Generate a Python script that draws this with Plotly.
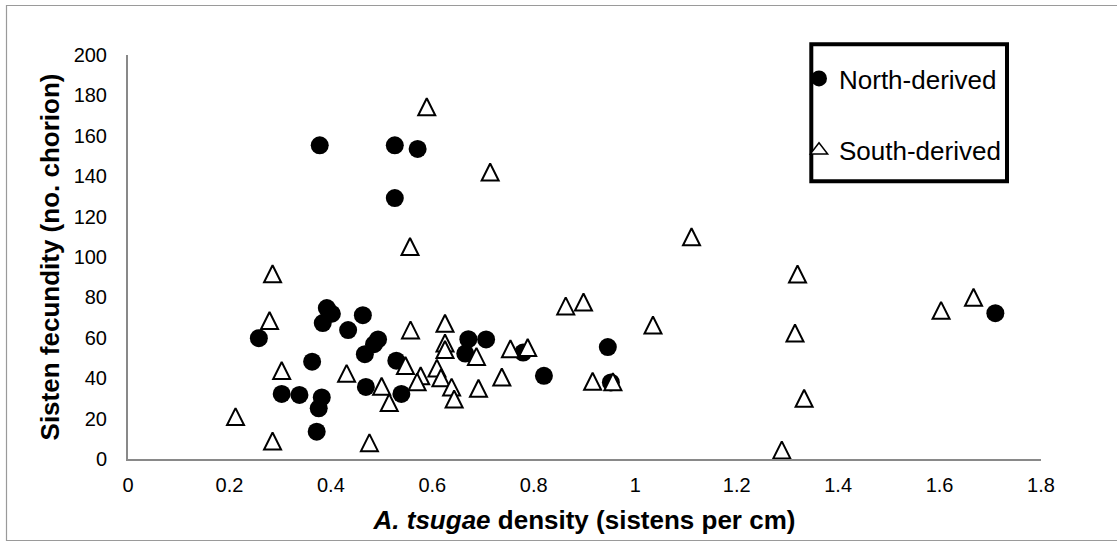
import plotly.graph_objects as go

# ---------------- data ----------------
north_x = [0.378, 0.526, 0.571, 0.526, 0.258, 0.392, 0.402, 0.384, 0.434, 0.463,
           0.493, 0.485, 0.467, 0.363, 0.529, 0.303, 0.338, 0.382, 0.376, 0.372,
           0.469, 0.539, 0.671, 0.706, 0.665, 0.779, 0.820, 0.946, 0.952, 1.710]
north_y = [155.3, 155.3, 153.5, 129.2, 59.8, 74.7, 71.9, 67.3, 63.8, 71.2,
           59.2, 56.8, 51.9, 48.2, 48.7, 32.2, 31.7, 30.5, 25.1, 13.5,
           35.7, 32.2, 59.3, 59.2, 52.2, 52.7, 41.2, 55.4, 37.9, 72.2]

south_x = [0.589, 0.714, 0.556, 0.285, 0.279, 0.303, 0.212, 0.285, 0.476, 0.431,
           0.557, 0.547, 0.500, 0.515, 0.625, 0.625, 0.625, 0.609, 0.577, 0.570,
           0.617, 0.638, 0.643, 0.687, 0.691, 0.754, 0.788, 0.737, 0.863, 0.898,
           1.035, 0.916, 0.956, 1.111, 1.320, 1.667, 1.603, 1.315, 1.333, 1.289]
south_y = [174.4, 142.1, 105.2, 91.7, 68.6, 43.8, 21.0, 8.9, 8.1, 42.4,
           63.9, 46.3, 36.0, 28.0, 67.2, 57.4, 54.2, 45.0, 41.2, 38.2,
           40.2, 35.6, 29.7, 50.8, 35.0, 54.6, 55.2, 40.6, 75.8, 77.7,
           66.3, 38.5, 38.3, 110.0, 91.6, 80.1, 73.6, 62.4, 30.1, 4.5]

x_tick_vals = [0, 0.2, 0.4, 0.6, 0.8, 1.0, 1.2, 1.4, 1.6, 1.8]
x_tick_text = ["0", "0.2", "0.4", "0.6", "0.8", "1", "1.2", "1.4", "1.6", "1.8"]
y_tick_vals = [0, 20, 40, 60, 80, 100, 120, 140, 160, 180, 200]

series_names = ["North-derived", "South-derived"]
x_title = "<i>A. tsugae</i> density (sistens per cm)"
y_title = "Sisten fecundity (no. chorion)"

# ---------------- layout geometry ----------------
W, H = 1117, 544
ML, MR, MT, MB = 128, 76, 55, 85
PLOT_W = W - ML - MR
PLOT_H = H - MT - MB
Y_MAX = 200
X_MAX = 1.8

FONT = "Liberation Sans, Arial, sans-serif"
AXIS_GREY = "#898989"

TRI_SIZE = 17
TRI_LW = 2
# 'arrow-up' hangs below its anchor point; shift its axis so the triangle is centred on the value
tri_shift = (TRI_SIZE / 2) / (PLOT_H / Y_MAX)


def px_x(p):
    return (p - ML) / PLOT_W


def px_y(p):
    return (H - MB - p) / PLOT_H


fig = go.Figure()

fig.add_trace(go.Scatter(
    x=north_x, y=north_y, mode="markers", name=series_names[0],
    legendgroup="n",
    marker=dict(symbol="circle", size=18, color="black", line=dict(width=0)),
))

fig.add_trace(go.Scatter(
    x=south_x, y=south_y, mode="markers", name=series_names[1],
    yaxis="y2", showlegend=False, legendgroup="s",
    marker=dict(symbol="arrow-up", size=TRI_SIZE, color="white",
                line=dict(width=TRI_LW, color="black")),
))

# legend entry for the triangles (no data of its own)
fig.add_trace(go.Scatter(
    x=[None], y=[None], mode="markers", name=series_names[1],
    legendgroup="s",
    marker=dict(symbol="triangle-up", size=15, color="white",
                line=dict(width=1.5, color="black")),
))

fig.update_layout(
    width=W, height=H,
    margin=dict(l=ML, r=MR, t=MT, b=MB, autoexpand=False),
    paper_bgcolor="white", plot_bgcolor="white",
    font=dict(family=FONT, color="black"),
    showlegend=True,
    legend=dict(
        x=px_x(799), y=px_y(55), xanchor="left", yanchor="top",
        bgcolor="rgba(0,0,0,0)", borderwidth=0,
        font=dict(family=FONT, size=26, color="black"),
        tracegroupgap=35,
    ),
    xaxis=dict(
        range=[0, X_MAX], tickmode="array", tickvals=x_tick_vals, ticktext=x_tick_text,
        showgrid=False, zeroline=False, showline=True, linecolor=AXIS_GREY, linewidth=2,
        ticks="", tickfont=dict(family=FONT, size=20, color="black"),
        ticklabelstandoff=7,
        title=dict(text=x_title, font=dict(family=FONT, size=26, color="black", weight="bold"),
                   standoff=16),
        fixedrange=True,
    ),
    yaxis=dict(
        range=[0, Y_MAX], tickmode="array", tickvals=y_tick_vals,
        showgrid=False, zeroline=False, showline=True, linecolor=AXIS_GREY, linewidth=2,
        ticks="", tickfont=dict(family=FONT, size=20, color="black"),
        ticklabelstandoff=15,
        title=dict(text=y_title, font=dict(family=FONT, size=26, color="black", weight="bold"),
                   standoff=7),
        fixedrange=True,
    ),
    yaxis2=dict(
        range=[-tri_shift, Y_MAX - tri_shift], overlaying="y", visible=False,
        fixedrange=True,
    ),
    shapes=[
        # outer chart border
        dict(type="rect", xref="paper", yref="paper",
             x0=px_x(6.5), x1=px_x(1125), y0=px_y(540.5), y1=px_y(5.5),
             line=dict(color="#9a9a9a", width=1.2), fillcolor="rgba(0,0,0,0)", layer="below"),
        # legend frame
        dict(type="rect", xref="paper", yref="paper",
             x0=px_x(811.3), x1=px_x(1007), y0=px_y(181.3), y1=px_y(44.3),
             line=dict(color="black", width=4), fillcolor="rgba(0,0,0,0)", layer="above"),
    ],
)

fig.write_html("out.html")
